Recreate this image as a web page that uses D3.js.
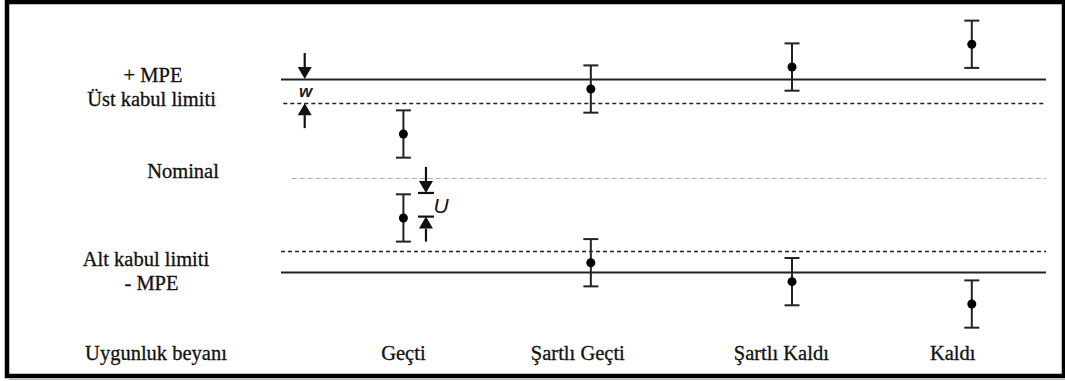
<!DOCTYPE html>
<html>
<head>
<meta charset="utf-8">
<script src="https://cdn.jsdelivr.net/npm/d3@7"></script>
<style>
  html, body { margin: 0; padding: 0; background: #fff; }
  svg { display: block; }
</style>
</head>
<body>
<svg id="chart" width="1065" height="381"></svg>
<script>
// Conformity decision categories and their horizontal slots (0..100 along the limit lines)
const categories = ["Geçti", "Şartlı Geçti", "Şartlı Kaldı", "Kaldı"];
const categoryX = [16, 40.5, 66.8, 90.3];
const categoryLabelX = [16, 38.8, 65.4, 87.8];

// Measured results (in MPE units) for the upper and lower cases
const upperResults = [0.43, 0.896, 1.124, 1.36];
const lowerResults = [-0.44, -0.904, -1.10, -1.332];
const expandedU = 0.245;

// Reference levels
const levelNames = ["+ MPE", "Üst kabul limiti", "Nominal", "Alt kabul limiti", "- MPE"];
const levelValues = [1, 0.75, -0.026, -0.78, -1];
const guardBand = 0.25;          // w
const uMarkerTop = -0.181;       // where the U dimension starts

const rowTitle = "Uygunluk beyanı";

const svg = d3.select("#chart");
const W = 1065, H = 381;

const x = d3.scaleLinear().domain([0, 100]).range([281, 1046]);
const y = d3.scaleLinear().domain([-1, 1]).range([272, 79]);

const SERIF = "Liberation Serif, DejaVu Serif, Noto Serif, FreeSerif, Times, serif";
const SANS = "Liberation Sans, Arial, DejaVu Sans, sans-serif";

// Serif label helper: slightly heavier strokes than the regular face
function serifText(sel) {
  return sel.style("font-family", SERIF)
    .attr("text-anchor", "middle")
    .attr("font-size", 20.5)
    .attr("fill", "#111")
    .attr("stroke", "#111").attr("stroke-width", 0.3);
}

// Frame
svg.append("rect")
  .attr("x", 7).attr("y", 2).attr("width", 1057).attr("height", 374)
  .attr("fill", "none").attr("stroke", "#000").attr("stroke-width", 4.5);
svg.append("line")
  .attr("x1", 9).attr("x2", W).attr("y1", 379.5).attr("y2", 379.5)
  .attr("stroke", "#bbb").attr("stroke-width", 1);

// Limit lines
const lineStyles = [
  { x0: 0, dash: null, color: "#222", width: 2 },
  { x0: 0.3, dash: "4,3", color: "#222", width: 1.4 },
  { x0: 1.4, dash: "5,3", color: "#aaa", width: 1 },
  { x0: 0, dash: "4,3", color: "#222", width: 1.4 },
  { x0: 0, dash: null, color: "#222", width: 2 }
];
levelValues.forEach((v, i) => {
  const s = lineStyles[i];
  svg.append("line")
    .attr("x1", x(s.x0)).attr("x2", x(100))
    .attr("y1", Math.round(y(v)) + 0.5).attr("y2", Math.round(y(v)) + 0.5)
    .attr("stroke", s.color).attr("stroke-width", s.width)
    .attr("stroke-dasharray", s.dash);
});

// Level labels on the left
const levelLabelPos = [
  { cx: 153, by: 82 },
  { cx: 151.5, by: 106 },
  { cx: 183, by: 178 },
  { cx: 146, by: 266 },
  { cx: 151.5, by: 290 }
];
levelNames.forEach((t, i) => {
  svg.append("text")
    .call(serifText)
    .attr("x", levelLabelPos[i].cx).attr("y", levelLabelPos[i].by)
    .text(t);
});

// Bottom row
svg.append("text")
  .call(serifText)
  .attr("x", 156).attr("y", 360)
  .text(rowTitle);
svg.selectAll("text.cat").data(categories).join("text")
  .attr("class", "cat")
  .call(serifText)
  .attr("x", (d, i) => x(categoryLabelX[i])).attr("y", 360)
  .text(d => d);

// Error bars with measured points
const points = [];
categories.forEach((c, i) => {
  points.push({ cx: categoryX[i], v: upperResults[i] });
  points.push({ cx: categoryX[i], v: lowerResults[i] });
});
const capHalf = 7.5;
const eb = svg.append("g").attr("stroke", "#222").attr("stroke-width", 2);
points.forEach(p => {
  const px = x(p.cx);
  const top = y(p.v + expandedU), bot = y(p.v - expandedU);
  eb.append("line").attr("x1", px).attr("x2", px).attr("y1", top).attr("y2", bot);
  eb.append("line").attr("x1", px - capHalf).attr("x2", px + capHalf).attr("y1", top).attr("y2", top);
  eb.append("line").attr("x1", px - capHalf).attr("x2", px + capHalf).attr("y1", bot).attr("y2", bot);
});
svg.append("g").selectAll("circle").data(points).join("circle")
  .attr("cx", d => x(d.cx)).attr("cy", d => y(d.v)).attr("r", 4.5)
  .attr("fill", "#000");

// Dimension arrows
function arrow(px, tipY, dir, len, withBar) {
  // dir = 1 points down (tip below), -1 points up
  const g = svg.append("g");
  const headH = 12, headW = 7;
  const baseY = tipY - dir * headH;
  const tailY = tipY - dir * len;
  g.append("line").attr("x1", px).attr("x2", px).attr("y1", tailY).attr("y2", baseY)
    .attr("stroke", "#111").attr("stroke-width", 2.2);
  g.append("path")
    .attr("d", `M${px - headW},${baseY}L${px + headW},${baseY}L${px},${tipY}Z`)
    .attr("fill", "#111");
  if (withBar) {
    g.append("line").attr("x1", px - 8).attr("x2", px + 8).attr("y1", tipY).attr("y2", tipY)
      .attr("stroke", "#111").attr("stroke-width", 2.2);
  }
}

// w: guard band between +MPE and upper acceptance limit
const wx = x(3.1);
arrow(wx, y(levelValues[0]), 1, 26, false);
arrow(wx, y(levelValues[0] - guardBand), -1, 25, false);
svg.append("text")
  .style("font-family", SANS)
  .attr("x", wx + 1).attr("y", (y(levelValues[0]) + y(levelValues[0] - guardBand)) / 2 + 6)
  .attr("text-anchor", "middle")
  .attr("font-style", "italic").attr("font-weight", "bold").attr("font-size", 17)
  .attr("fill", "#222").text("w");

// U: expanded uncertainty
const ux = x(18.95);
arrow(ux, y(uMarkerTop), 1, 26, true);
arrow(ux, y(uMarkerTop - expandedU), -1, 25, true);
svg.append("text")
  .style("font-family", SANS)
  .attr("x", ux + 15).attr("y", (y(uMarkerTop) + y(uMarkerTop - expandedU)) / 2 + 8)
  .attr("text-anchor", "middle")
  .attr("font-style", "italic").attr("font-size", 21)
  .attr("fill", "#111").text("U");
</script>
</body>
</html>
